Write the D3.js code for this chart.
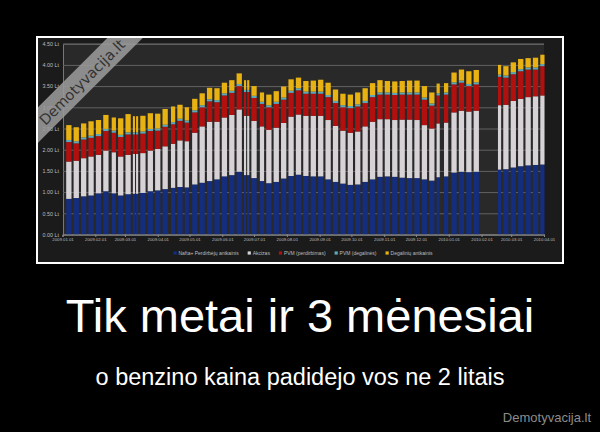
<!DOCTYPE html>
<html><head><meta charset="utf-8">
<script src="https://cdn.jsdelivr.net/npm/d3@7"></script>
<style>html,body{margin:0;padding:0;background:#000;}svg{display:block}</style>
</head><body>
<svg id="c" width="600" height="432"></svg>
<script>
// ---- data (weekly, Lt per litre) ----
const weeks = ["2009-01-05","2009-01-12","2009-01-19","2009-01-26","2009-02-02","2009-02-09","2009-02-16","2009-02-23","2009-03-02","2009-03-09","2009-03-16","2009-03-23","2009-03-30","2009-04-06","2009-04-13","2009-04-20","2009-04-27","2009-05-04","2009-05-11","2009-05-18","2009-05-25","2009-06-01","2009-06-08","2009-06-15","2009-06-22","2009-06-29","2009-07-06","2009-07-13","2009-07-20","2009-07-27","2009-08-03","2009-08-10","2009-08-17","2009-08-24","2009-08-31","2009-09-07","2009-09-14","2009-09-21","2009-09-28","2009-10-05","2009-10-12","2009-10-19","2009-10-26","2009-11-02","2009-11-09","2009-11-16","2009-11-23","2009-11-30","2009-12-07","2009-12-14","2009-12-21","2009-12-28","2010-01-04","2010-01-11","2010-01-18","2010-01-25","2010-02-15","2010-02-22","2010-03-01","2010-03-08","2010-03-15","2010-03-22","2010-03-29"];
const nafta = [.84,.86,.90,.92,.97,1.02,.97,.92,.95,.96, .98,1.02,1.04,1.07,1.10,1.12,1.11,1.18,1.22,1.26, 1.30,1.37,1.40,1.48,1.40,1.33,1.26,1.21,1.24,1.32, 1.38,1.41,1.38,1.37,1.37,1.30,1.24,1.20,1.17,1.18, 1.24,1.30,1.36,1.37,1.36,1.34,1.33,1.33,1.30,1.27, 1.35,1.37,1.46,1.48,1.47,1.48,1.53,1.54,1.58,1.61, 1.63,1.64,1.65];
const akcizas = [.88,.88,.90,.92,.91,.96,.97,.92,.93,.94, .94,.96,.98,1.01,1.04,1.10,1.09,1.22,1.33,1.40, 1.36,1.39,1.42,1.47,1.40,1.35,1.29,1.26,1.28,1.31, 1.40,1.42,1.42,1.43,1.43,1.40,1.32,1.25,1.23,1.25, 1.31,1.36,1.36,1.35,1.34,1.37,1.38,1.37,1.28,1.23, 1.27,1.27,1.42,1.44,1.43,1.44,1.52,1.52,1.57,1.59, 1.61,1.62,1.63];
const pvmPerdirbimas = [.46,.41,.44,.44,.44,.46,.46,.46,.48,.46, .46,.46,.43,.46,.46,.46,.44,.48,.45,.48, .46,.52,.52,.55,.56,.54,.53,.53,.56,.55, .56,.57,.52,.52,.52,.54,.54,.55,.58,.59, .55,.58,.58,.58,.59,.59,.59,.60,.60,.54, .66,.66,.66,.66,.60,.62,.67,.64,.63,.65, .65,.63,.69];
const pvmDegalines = [.05,.05,.05,.05,.05,.05,.05,.05,.05,.05, .05,.05,.05,.05,.05,.05,.05,.05,.05,.05, .05,.05,.05,.05,.05,.05,.05,.05,.05,.05, .05,.05,.05,.05,.05,.05,.05,.05,.05,.05, .05,.05,.05,.05,.05,.05,.05,.05,.05,.05, .05,.05,.05,.05,.05,.05,.05,.05,.05,.05, .05,.05,.05];
const degaliniuAntkainis = [.35,.33,.33,.34,.33,.33,.31,.39,.43,.38, .37,.37,.35,.37,.37,.33,.31,.27,.28,.27, .28,.25,.25,.25,.23,.23,.22,.25,.25,.26, .27,.25,.25,.26,.28,.29,.27,.27,.27,.28, .30,.28,.29,.27,.27,.27,.28,.28,.27,.26, .23,.22,.23,.26,.30,.29,.23,.22,.23,.24, .22,.23,.22];
const missingDays = ["2009-02-16","2009-03-11","2009-04-13","2009-05-01","2009-06-24","2009-07-06","2009-12-24","2009-12-25","2010-01-01","2010-02-15","2010-02-16","2010-04-02"];
const seriesNames = ["Nafta+ Perdirbėjų antkainis","Akcizas","PVM (perdirbimas)","PVM (degalinės)","Degalinių antkainis"];
const yTickValues = [0,0.5,1,1.5,2,2.5,3,3.5,4,4.5];
const monthTicks = ["2009-01-01","2009-02-01","2009-03-01","2009-04-01","2009-05-01","2009-06-01","2009-07-01","2009-08-01","2009-09-01","2009-10-01","2009-11-01","2009-12-01","2010-01-01","2010-02-01","2010-03-01","2010-04-01"];
const titleText = "Tik metai ir 3 mėnesiai";
const subtitleText = "o benzino kaina padidejo vos ne 2 litais";
const brandText = "Demotyvacija.lt";

// ---- styles ----
const colors = ["#142d7c","#d6d2d6","#b20f0f","#5fa8ba","#e9b213"];
const FONT = "'Liberation Sans', Arial, sans-serif";

const svg = d3.select("#c");
svg.append("rect").attr("width",600).attr("height",432).attr("fill","#000");

// frame & chart background
svg.append("defs").append("clipPath").attr("id","inner")
  .append("rect").attr("x",38).attr("y",38).attr("width",524).attr("height",224);
svg.append("rect").attr("x",37).attr("y",37).attr("width",526).attr("height",226)
  .attr("fill","#1b1b1b");

const parse = d3.utcParse("%Y-%m-%d");
const L = 63, R = 544, B = 234.5, T = 43.7;
const x = d3.scaleUtc().domain([parse("2009-01-01"), parse("2010-04-01")]).range([62.5, 544]);
const y = d3.scaleLinear().domain([0,4.5]).range([B, T]);

svg.append("rect").attr("x",L).attr("y",T).attr("width",R-L).attr("height",B-T).attr("fill","#292929");

// y axis with gridlines
const yAxis = svg.append("g").attr("transform",`translate(${L},0)`)
  .call(d3.axisLeft(y).tickValues(yTickValues).tickSize(-(R-L)).tickPadding(4)
    .tickFormat(d => d3.format(".2f")(d) + " Lt"));
yAxis.select(".domain").attr("stroke","#777");
yAxis.selectAll(".tick line").attr("stroke","#626262").attr("stroke-width",1);
yAxis.selectAll("text").attr("fill","#bdbdbd").style("font-family",FONT).style("font-size","5.4px");

// bars
const missing = new Set(missingDays);
const fmt = d3.utcFormat("%Y-%m-%d");
const rows = weeks.map((w,i) => ({week: parse(w), v:[nafta[i],akcizas[i],pvmPerdirbimas[i],pvmDegalines[i],degaliniuAntkainis[i]]}));
const stack = d3.stack().keys([0,1,2,3,4]).value((d,k) => d.v[k]);
const stacked = stack(rows);
const half = 12*3600*1000;
const runsOf = (monday) => {
  const runs = []; let cur = null;
  for (let k=0;k<5;k++){
    const d = d3.utcDay.offset(monday,k);
    if (missing.has(fmt(d))) { cur = null; continue; }
    if (!cur) { cur = {s:d,e:d}; runs.push(cur); } else cur.e = d;
  }
  return runs;
};
const barG = svg.append("g");
stacked.forEach((layer, li) => {
  const g = barG.append("g").attr("fill", colors[li]);
  layer.forEach((seg, wi) => {
    runsOf(rows[wi].week).forEach(r => {
      const x0 = x(new Date(+r.s - half)), x1 = x(new Date(+r.e + half));
      g.append("rect").attr("x",x0).attr("width",x1-x0)
        .attr("y",y(seg[1])).attr("height",y(seg[0])-y(seg[1]));
    });
  });
});

// x axis
const xAxis = svg.append("g").attr("transform",`translate(0,${B})`)
  .call(d3.axisBottom(x).tickValues(monthTicks.map(parse)).tickSize(2.5).tickPadding(1.2)
    .tickFormat(d3.utcFormat("%Y.%m.%d")));
xAxis.select(".domain").attr("stroke","#8a8a8a");
xAxis.selectAll(".tick line").attr("stroke","#8a8a8a");
xAxis.selectAll("text").attr("fill","#bdbdbd").style("font-family",FONT).style("font-size","4.3px");

// legend
const leg = svg.append("g").style("font-family",FONT).style("font-size","5px");
let lx = 0; const items = [];
seriesNames.forEach((n,i) => {
  const g = leg.append("g");
  g.append("rect").attr("x",0).attr("y",-1.6).attr("width",3.2).attr("height",3.2).attr("fill",colors[i]);
  const t = g.append("text").attr("x",5).attr("y",1.8).attr("fill","#bdbdbd").text(n);
  const w = 5 + t.node().getComputedTextLength();
  g.attr("transform",`translate(${lx},0)`);
  lx += w + 9;
});
const legW = lx - 9;
leg.attr("transform",`translate(${303 - legW/2},253)`);

// watermark band
const wm = svg.append("g").attr("clip-path","url(#inner)")
  .append("g").attr("transform","translate(81.5,81.5) rotate(-45)");
wm.append("rect").attr("x",-160).attr("y",-12.5).attr("width",320).attr("height",25)
  .attr("fill","#9a9a9a").attr("opacity",0.88);
wm.append("text").attr("x",0).attr("y",6).attr("text-anchor","middle")
  .style("font-family","'DejaVu Sans', sans-serif").style("font-size","14.5px")
  .attr("fill","#333").text(brandText);

// white frame
svg.append("rect").attr("x",37).attr("y",37).attr("width",526).attr("height",226)
  .attr("fill","none").attr("stroke","#fff").attr("stroke-width",2);

// poster texts
svg.append("text").attr("x",300).attr("y",332).attr("text-anchor","middle")
  .style("font-family",FONT).style("font-size","47px").attr("fill","#fff").text(titleText);
svg.append("text").attr("x",300).attr("y",385).attr("text-anchor","middle")
  .style("font-family",FONT).style("font-size","23.5px").attr("fill","#fff").text(subtitleText);
svg.append("text").attr("x",591).attr("y",422).attr("text-anchor","end")
  .style("font-family",FONT).style("font-size","13px").attr("fill","#8c8c8c").text(brandText);
</script>
</body></html>
